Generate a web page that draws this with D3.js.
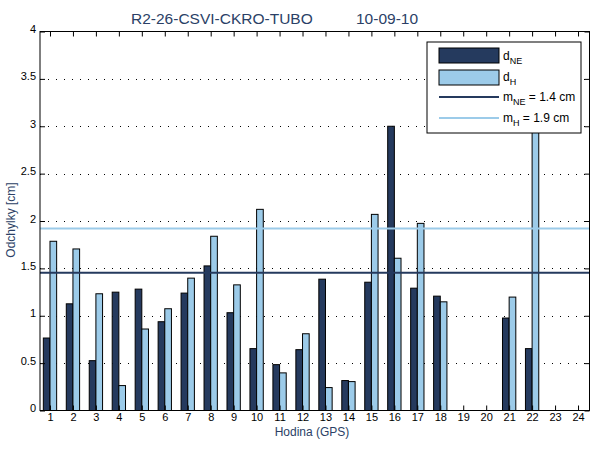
<!DOCTYPE html>
<html><head><meta charset="utf-8">
<script src="https://cdn.jsdelivr.net/npm/d3@7"></script>
<style>body{margin:0;background:#fff}svg{display:block;font-family:Arial,"Liberation Sans",Helvetica,sans-serif}</style>
</head><body><div id="c"></div>
<script>
const titleParts = ["R2-26-CSVI-CKRO-TUBO", "10-09-10"];
const hours = d3.range(1, 25);
const dNE = [0.765,1.126,0.526,1.249,1.281,0.937,1.239,1.526,1.032,0.653,0.484,0.642,1.386,0.316,1.354,3.0,1.291,1.207,null,null,0.976,0.653,null,null];
const dH  = [1.786,1.705,1.232,0.263,0.86,1.074,1.397,1.839,1.326,2.123,0.397,0.81,0.242,0.305,2.07,1.607,1.975,1.147,null,null,1.197,3.6,null,null];
const mNE = 1.455, mH = 1.92;
const yTicks = [0,0.5,1,1.5,2,2.5,3,3.5,4];
const yTickLabels = ["0","0.5","1","1.5","2","2.5","3","3.5","4"];
const legendLabels = [["d","NE",""],["d","H",""],["m","NE"," = 1.4 cm"],["m","H","  = 1.9 cm"]];
const cDark = "#253a5e", cLight = "#9ccbe9", cText = "#2b3f66";

const W=600,H=450, L=40, R=589.5, T=31.5, B=410.5;
const svg = d3.select("#c").append("svg").attr("width",W).attr("height",H);
const x = d3.scaleLinear().domain([0.565,24.5]).range([L,R]);
const y = d3.scaleLinear().domain([0,4]).range([B,T]);
const bw = x(0.29)-x(0);

// grid
svg.append("g").selectAll("line").data(yTicks.filter(v=>v>0&&v<4)).join("line")
  .attr("x1",L).attr("x2",R).attr("y1",d=>Math.round(y(d))+0.5).attr("y2",d=>Math.round(y(d))+0.5)
  .attr("stroke","#000").attr("stroke-width",1).attr("stroke-dasharray","1,7");

// bars
const g = svg.append("g");
g.selectAll(".ne").data(hours.map((h,i)=>({h,v:dNE[i]})).filter(d=>d.v!=null)).join("rect")
  .attr("x",d=>x(d.h)-bw).attr("width",bw).attr("y",d=>y(d.v)).attr("height",d=>y(0)-y(d.v))
  .attr("fill",cDark).attr("stroke","#000").attr("stroke-width",1);
g.selectAll(".h").data(hours.map((h,i)=>({h,v:dH[i]})).filter(d=>d.v!=null)).join("rect")
  .attr("x",d=>x(d.h)).attr("width",bw).attr("y",d=>y(d.v)).attr("height",d=>y(0)-y(d.v))
  .attr("fill",cLight).attr("stroke","#000").attr("stroke-width",1);

// mean lines
svg.append("line").attr("x1",L).attr("x2",R).attr("y1",y(mH)).attr("y2",y(mH)).attr("stroke",cLight).attr("stroke-width",2);
svg.append("line").attr("x1",L).attr("x2",R).attr("y1",y(mNE)).attr("y2",y(mNE)).attr("stroke",cDark).attr("stroke-width",2);

// axes
const ax = svg.append("g").attr("stroke","#000").attr("fill","none");
ax.append("rect").attr("x",L).attr("y",T).attr("width",R-L).attr("height",B-T).attr("stroke-width",1);
const xb = svg.append("g").attr("transform",`translate(0,${B})`).call(d3.axisBottom(x).tickValues(hours).tickSize(-5).tickPadding(3).tickFormat(d3.format("d")));
const xt = svg.append("g").attr("transform",`translate(0,${T})`).call(d3.axisTop(x).tickValues(hours).tickSize(-5).tickFormat(""));
const yl = svg.append("g").attr("transform",`translate(${L},0)`).call(d3.axisLeft(y).tickValues(yTicks).tickSize(-5).tickPadding(4).tickFormat((d,i)=>yTickLabels[i]));
const yr = svg.append("g").attr("transform",`translate(${R},0)`).call(d3.axisRight(y).tickValues(yTicks).tickSize(-5).tickFormat(""));
[xb,xt,yl,yr].forEach(a=>{a.select(".domain").remove();a.selectAll("line").attr("stroke","#000");a.selectAll("text").attr("fill","#000").style("font-size","11px").style("font-family","Arial,'Liberation Sans',sans-serif");});
yl.selectAll("text").attr("dx","0").attr("dy","0.1em");

// legend
const lg = svg.append("g");
lg.append("rect").attr("x",427).attr("y",42).attr("width",154).attr("height",91).attr("fill","#fff").attr("stroke","#000");
const ly=[56,77,97,118];
lg.append("rect").attr("x",439).attr("y",48).attr("width",60).attr("height",15).attr("fill",cDark).attr("stroke","#000");
lg.append("rect").attr("x",439).attr("y",70).attr("width",60).attr("height",15).attr("fill",cLight).attr("stroke","#000");
lg.append("line").attr("x1",439).attr("x2",499).attr("y1",97).attr("y2",97).attr("stroke",cDark).attr("stroke-width",2);
lg.append("line").attr("x1",439).attr("x2",499).attr("y1",118).attr("y2",118).attr("stroke",cLight).attr("stroke-width",2);
legendLabels.forEach((l,i)=>{
  const t = lg.append("text").attr("x",503).attr("y",ly[i]+4).attr("fill","#000").style("font-size","12px");
  t.append("tspan").text(l[0]);
  t.append("tspan").attr("dy",4).style("font-size","9px").text(l[1]);
  if(l[2]) t.append("tspan").attr("dy",-4).text(l[2]);
});

// title & labels
const tt = svg.append("text").attr("y",24).attr("fill",cText).style("font-size","15.5px");
tt.append("tspan").attr("x",131).text(titleParts[0]);
tt.append("tspan").attr("x",356).text(titleParts[1]);
svg.append("text").attr("x",312).attr("y",436).attr("text-anchor","middle").attr("fill",cText).style("font-size","12px").text("Hodina (GPS)");
svg.append("text").attr("transform","translate(15,220) rotate(-90)").attr("text-anchor","middle").attr("fill",cText).style("font-size","12px").text("Odchylky [cm]");
</script></body></html>
